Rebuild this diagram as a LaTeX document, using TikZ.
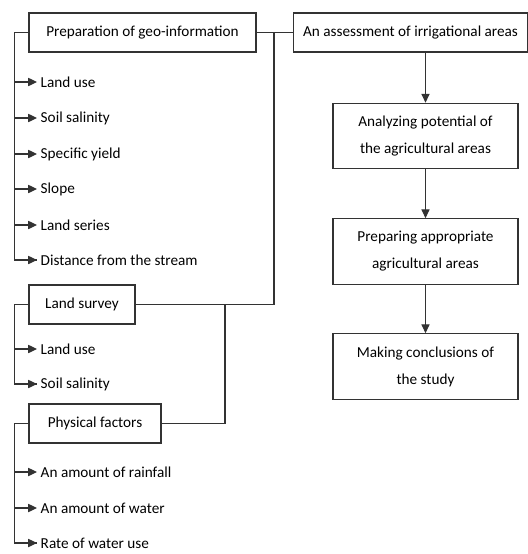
\documentclass[tikz,border=0pt]{standalone}
\usepackage{fontspec}
\setmainfont{Carlito}
\usetikzlibrary{arrows.meta}
\tikzset{
  box/.style={draw=black!80, line width=0.9pt, align=center, minimum height=1.17cm},
  tallbox/.style={box, minimum width=5.55cm, minimum height=1.97cm},
  item/.style={anchor=west, inner xsep=3pt},
  link/.style={draw=black!80, line width=0.9pt},
  pointer/.style={link, -{Triangle[length=7.5pt,width=7pt]}}
}
\begin{document}
\begin{tikzpicture}[x=0.03cm, y=-0.03cm, font=\fontsize{13}{23}\selectfont]
  \useasboundingbox (0,0) rectangle (528,554);
  % left column boxes
  \node [box, minimum width=6.81cm] (prep) at (142.5,32.5) {Preparation of geo-information};
  \node [box, minimum width=3.18cm] (survey) at (82,304.5) {Land survey};
  \node [box, minimum width=3.96cm] (phys) at (95,423.5) {Physical factors};
  % items of the geo-information
  \node [item] (g1) at (37,82) {Land use};
  \node [item] (g2) at (37,118) {Soil salinity};
  \node [item] (g3) at (37,154) {Specific yield};
  \node [item] (g4) at (37,189) {Slope};
  \node [item] (g5) at (37,225) {Land series};
  \node [item] (g6) at (37,260) {Distance from the stream};
  % items of the survey
  \node [item] (s1) at (37,349) {Land use};
  \node [item] (s2) at (37,384) {Soil salinity};
  % items of the physical factors
  \node [item] (f1) at (37,472) {An amount of rainfall};
  \node [item] (f2) at (37,508) {An amount of water};
  \node [item] (f3) at (37,543) {Rate of water use};
  % right column
  \node [box, minimum width=7.02cm] (assess) at (410.5,32.5) {An assessment of irrigational areas};
  \node [tallbox] (anal) at (425.5,136) {Analyzing potential of\\the agricultural areas};
  \node [tallbox] (appr) at (425.5,251.5) {Preparing appropriate\\agricultural areas};
  \node [tallbox] (concl) at (425.5,366.5) {Making conclusions of\\the study};
  \coordinate (jA) at (274,32.5);
  \coordinate (jB) at (225,304.5);
  % connectors
  \draw [link] (prep.west) -- ++(-14,0) coordinate (gL) |- (g6.west);
  \foreach \i in {g1,g2,g3,g4,g5,g6}
    \draw [pointer] (gL |- \i.west) -- (\i.west);
  \draw [link] (survey.west) -- ++(-14,0) coordinate (sL) |- (s2.west);
  \foreach \i in {s1,s2}
    \draw [pointer] (sL |- \i.west) -- (\i.west);
  \draw [link] (phys.west) -- ++(-14,0) coordinate (fL) |- (f3.west);
  \foreach \i in {f1,f2,f3}
    \draw [pointer] (fL |- \i.west) -- (\i.west);
  \draw [link] (prep.east) -- (assess.west);
  \draw [link] (jA) |- (survey.east);
  \draw [link] (jB) |- (phys.east);
  \draw [pointer] (assess.south -| anal.north) -- (anal.north);
  \draw [pointer] (anal) -- (appr);
  \draw [pointer] (appr) -- (concl);
\end{tikzpicture}
\end{document}
